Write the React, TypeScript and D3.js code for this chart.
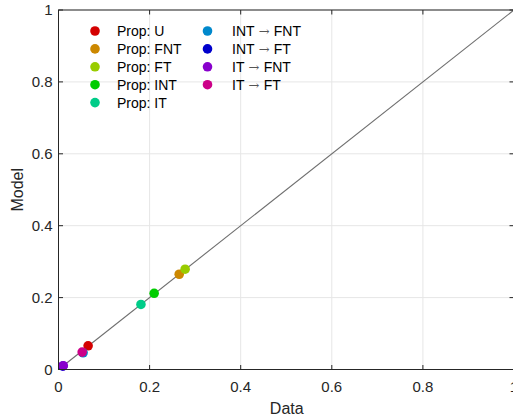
import React from "react";
import * as d3 from "d3";

const seriesSources = ["Prop: U", "Prop: FNT", "Prop: FT", "Prop: INT", "Prop: IT", "INT", "INT", "IT", "IT"];
const seriesTargets = ["", "", "", "", "", "FNT", "FT", "FNT", "FT"];
const seriesColors = [
  "#d40000",
  "#cc8800",
  "#99cc00",
  "#00cc00",
  "#00cc88",
  "#0088cc",
  "#0000cc",
  "#8800cc",
  "#cc0088",
];
const dataValues = [0.065, 0.265, 0.278, 0.21, 0.181, 0.054, 0.0095, 0.0105, 0.052];
const modelValues = [0.066, 0.265, 0.279, 0.212, 0.181, 0.0465, 0.0095, 0.0106, 0.0484];
const xTicks = [0, 0.2, 0.4, 0.6, 0.8, 1];
const yTicks = [0, 0.2, 0.4, 0.6, 0.8, 1];

const W = 513;
const H = 419;
const left = 58.5;
const right = 514;
const top = 10;
const bottom = 369.5;
const FONT = "'Liberation Sans', Arial, Helvetica, sans-serif";
const AX = "#262626";

export default function App() {
  const x = d3.scaleLinear().domain([0, 1]).range([left, right]);
  const y = d3.scaleLinear().domain([0, 1]).range([bottom, top]);
  const line = d3.line<[number, number]>().x((d) => x(d[0])).y((d) => y(d[1]));
  const tl = 4.5;

  const legendCol = [
    { mx: 95, tx: 117 },
    { mx: 207.5, tx: 232 },
  ];
  const legendY0 = 31;
  const legendDy = 17.9;

  return (
    <svg
      width={W}
      height={H}
      style={{ position: "absolute", left: 0, top: 0, background: "#fff" }}
      fontFamily={FONT}
    >
      <rect x={0} y={0} width={W} height={H} fill="#fff" />
      {xTicks.map((t) => (
        <line key={"gx" + t} x1={x(t)} x2={x(t)} y1={top} y2={bottom} stroke="#e6e6e6" strokeWidth={1} />
      ))}
      {yTicks.map((t) => (
        <line key={"gy" + t} x1={left} x2={right} y1={y(t)} y2={y(t)} stroke="#e6e6e6" strokeWidth={1} />
      ))}
      <path d={line([[0, 0], [1, 1]]) || ""} stroke="#6e6e6e" strokeWidth={1.1} fill="none" />
      {dataValues.map((dv, i) => (
        <circle key={"p" + i} cx={x(dv)} cy={y(modelValues[i])} r={4.8} fill={seriesColors[i]} />
      ))}
      <rect x={left} y={top} width={right - left} height={bottom - top} fill="none" stroke={AX} strokeWidth={1} />
      {xTicks.map((t) => (
        <g key={"tx" + t}>
          <line x1={x(t)} x2={x(t)} y1={bottom} y2={bottom - tl} stroke={AX} />
          <line x1={x(t)} x2={x(t)} y1={top} y2={top + tl} stroke={AX} />
          <text x={x(t)} y={bottom + 22} textAnchor="middle" fontSize={15} fill={AX}>
            {d3.format("~g")(t)}
          </text>
        </g>
      ))}
      {yTicks.map((t) => (
        <g key={"ty" + t}>
          <line x1={left} x2={left + tl} y1={y(t)} y2={y(t)} stroke={AX} />
          <line x1={right} x2={right - tl} y1={y(t)} y2={y(t)} stroke={AX} />
          <text x={left - 6} y={y(t) + 5} textAnchor="end" fontSize={15} fill={AX}>
            {d3.format("~g")(t)}
          </text>
        </g>
      ))}
      <text x={(left + right) / 2 + 0.5} y={414} textAnchor="middle" fontSize={16} fill={AX}>
        Data
      </text>
      <text
        transform={`translate(${23},${(top + bottom) / 2}) rotate(-90)`}
        textAnchor="middle"
        fontSize={16}
        fill={AX}
      >
        Model
      </text>
      {seriesSources.map((name, i) => {
        const col = i < 5 ? 0 : 1;
        const row = i < 5 ? i : i - 5;
        const cy = legendY0 + row * legendDy;
        return (
          <g key={"lg" + i}>
            <circle cx={legendCol[col].mx} cy={cy} r={4.8} fill={seriesColors[i]} />
            <text x={legendCol[col].tx} y={cy + 5} fontSize={14} fill="#000">
              {name}
              {seriesTargets[i] ? (
                <>
                  <tspan fontFamily="'DejaVu Serif', serif" fill="#555" fontSize={13}>
                    {" \u2192 "}
                  </tspan>
                  <tspan>{seriesTargets[i]}</tspan>
                </>
              ) : null}
            </text>
          </g>
        );
      })}
    </svg>
  );
}
